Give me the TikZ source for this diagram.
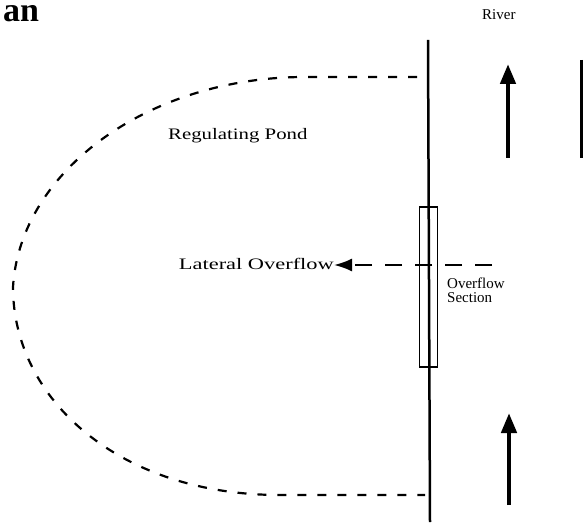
\documentclass[tikz,border=0pt]{standalone}
\usepackage{fontspec}
\setmainfont{Liberation Serif}
\usetikzlibrary{arrows.meta}
% wide setting of the larger labels
\newcommand\widetext[1]{\scalebox{1.4}[1]{#1}}
\begin{document}
\begin{tikzpicture}[x=1pt,y=-1pt,
  lbl/.style={inner sep=0pt, font=\fontsize{15}{14}\selectfont},
  biglbl/.style={inner sep=0pt, font=\fontsize{16}{16}\selectfont},
  flowarrow/.style={line width=4.5pt, -{Triangle[length=20pt,width=15pt]}},
  pond/.style={line width=2.2pt, dash pattern=on 9pt off 11pt},
  bank/.style={line width=2.5pt},
  weirbox/.style={draw, line width=1.5pt, minimum width=18pt, minimum height=160pt, inner sep=0pt},
]
\useasboundingbox (0,0) rectangle (583,526);

% title (lower-case only, so the box is kept to the x-height)
\node[inner sep=0pt, text height=17pt, text depth=0pt, anchor=base west,
  font=\fontsize{34}{34}\selectfont\bfseries] (title) at (3,22) {an};

% river
\node[lbl, anchor=base west] (river) at (482,20) {River};
\coordinate (rivtop) at (428,40);
\coordinate (rivbot) at (430,522);
\draw[bank] (rivtop) -- (rivbot);

% overflow section on the bank
\node[weirbox] (weir) at (428.5,287) {};

% flow direction arrows in the river
\coordinate (up1tail) at (508,158);
\coordinate (up1tip) at (508,64);
\coordinate (up2tail) at (509,505);
\coordinate (up2tip) at (509,413);
\draw[flowarrow] (up1tail) -- (up1tip);
\draw[flowarrow] (up2tail) -- (up2tip);

% far bank
\coordinate (fartop) at (581.5,60);
\coordinate (farbot) at (581.5,158);
\draw[line width=3pt] (fartop) -- (farbot);

% regulating pond outline
\coordinate (pondtop) at (417,77);
\coordinate (pondbot) at (425,495);
\draw[pond] (pondtop) -- (305,77)
  .. controls (150,77) and (20,170) .. (13,287)
  .. controls (13,400) and (120,495) .. (280,495) -- (pondbot);

\node[biglbl, anchor=base west] (pondlbl) at (168,140) {\scalebox{1.3}[1]{Regulating Pond}};

% lateral overflow
\node[biglbl, anchor=base east] (lateral) at (334,270) {\widetext{Lateral Overflow}};
\coordinate (latstart) at (492,265);
\draw[line width=2pt, dash pattern=on 17pt off 13pt, -{Latex[length=18pt,width=13pt]}]
  (latstart) -- (lateral.east |- latstart);

\node[lbl, anchor=north west, align=left] (weirlbl) at (447,278)
  {Overflow\\Section};
\end{tikzpicture}
\end{document}
